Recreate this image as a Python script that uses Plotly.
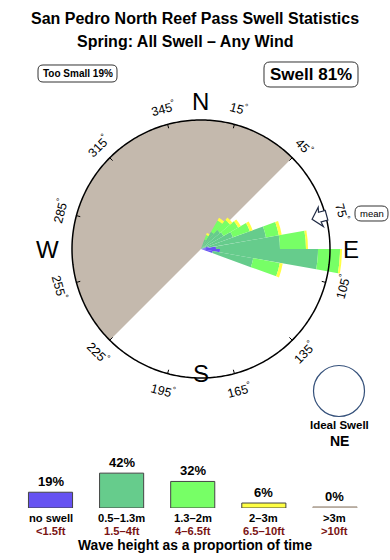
import math
import plotly.graph_objects as go

# ---------------- data ----------------
title_1 = "San Pedro North Reef Pass Swell Statistics"
title_2 = "Spring: All Swell – Any Wind"
too_small_pct = 19
swell_pct = 81
ideal_swell = "NE"

# rose: direction bins (deg, clockwise from N) and stacked segment lengths
directions = [25, 35, 45, 55, 65, 75, 85, 95, 105]
bin_width = 10
no_swell = [0, 0, 0, 0, 0, 0.8, 1.5, 1.9, 1.2]
h_05_13 = [1.0, 2.0, 2.5, 2.6, 3.4, 5.8, 6.4, 9.8, 4.1]
h_13_2 = [0.5, 1.3, 1.3, 1.7, 1.8, 1.3, 2.6, 2.2, 2.7]
h_2_3 = [0.2, 0.3, 0.3, 0.3, 0.3, 0.3, 0.2, 0.2, 0.3]
h_gt3 = [0, 0, 0, 0, 0, 0, 0, 0, 0]
rose_max = 12.9           # value at the compass circle
land_from, land_to = 225, 45   # land sector (clockwise from 225 to 45)
mean_dir = 75
tick_dirs = [15, 45, 75, 105, 135, 165, 195, 225, 255, 285, 315, 345]
cardinals = ["N", "E", "S", "W"]
cardinal_dirs = [0, 90, 180, 270]

# legend
legend_pct = [19, 42, 32, 6, 0]
legend_m = ["no swell", "0.5–1.3m", "1.3–2m", "2–3m", ">3m"]
legend_ft = ["<1.5ft", "1.5–4ft", "4–6.5ft", "6.5–10ft", ">10ft"]
caption = "Wave height as a proportion of time"

# ---------------- style ----------------
W, H = 390, 560
CX, CY = 201, 249
R_PX = 129
R_OUT_PX = 145
FONT = "Liberation Sans, Arial, Helvetica, sans-serif"
LAND = "#c4b9ad"
colors = ["#6652f2", "#66cc8c", "#77ff66", "#ffff44", "#c4b9ad"]
DARKRED = "#7a1414"

px_per_unit = R_PX / rose_max
r_out = R_OUT_PX / px_per_unit


def to_paper(bearing, r_px):
    b = math.radians(bearing)
    x = CX + r_px * math.sin(b)
    y = CY - r_px * math.cos(b)
    return x / W, 1 - y / H


def esc(s):
    return s.replace("<", "&lt;").replace(">", "&gt;")


fig = go.Figure()

# land sector
span = (land_to - land_from) % 360
fig.add_trace(go.Barpolar(
    r=[rose_max], theta=[(land_from + span / 2) % 360], width=[span],
    marker=dict(color=LAND, line=dict(width=0)), hoverinfo="skip",
    showlegend=False))

for vals, col in zip([no_swell, h_05_13, h_13_2, h_2_3, h_gt3], colors):
    fig.add_trace(go.Barpolar(
        r=vals, theta=directions, width=[bin_width] * len(directions),
        marker=dict(color=col, line=dict(width=0)), showlegend=False))

# compass circle
fig.add_trace(go.Scatterpolar(
    r=[rose_max] * 361, theta=list(range(361)), mode="lines",
    line=dict(color="black", width=1.5), showlegend=False, hoverinfo="skip"))

# ticks
tr, tt = [], []
for d in tick_dirs:
    tr += [rose_max - 4 / px_per_unit, rose_max + 0.5 / px_per_unit, None]
    tt += [d, d, None]
fig.add_trace(go.Scatterpolar(
    r=tr, theta=tt, mode="lines", line=dict(color="black", width=1),
    showlegend=False, hoverinfo="skip"))

annotations = []
shapes = []

# tick labels
for d in tick_dirs:
    x, y = to_paper(d, 146)
    ang = d if (d <= 90 or d >= 270) else d - 180
    if ang > 180:
        ang -= 360
    annotations.append(dict(x=x, y=y, xref="paper", yref="paper",
                            text=f"{d}<sup>°</sup>", showarrow=False,
                            textangle=ang, xanchor="center", yanchor="middle",
                            font=dict(family=FONT, size=12.5, color="black")))

# cardinals
for c, d in zip(cardinals, cardinal_dirs):
    rr = {0: 148, 90: 150, 180: 124, 270: 154}[d]
    x, y = to_paper(d, rr)
    annotations.append(dict(x=x, y=y, xref="paper", yref="paper", text=c,
                            showarrow=False, xanchor="center", yanchor="middle",
                            font=dict(family=FONT, size=24, color="black")))

# mean arrow
def pt(along, perp):
    b = math.radians(mean_dir)
    ux, uy = math.sin(b), -math.cos(b)
    nx, ny = math.cos(b), math.sin(b)
    tip = 115
    x = CX + (tip + along) * ux + perp * nx
    y = CY + (tip + along) * uy + perp * ny
    return x / W, 1 - y / H

arrow_pts = [pt(0, 0), pt(9, -10), pt(8, -5), pt(15, -5), pt(15, 5), pt(8, 5), pt(9, 10)]
path = "M " + " L ".join(f"{x:.5f},{y:.5f}" for x, y in arrow_pts) + " Z"
shapes.append(dict(type="path", path=path, xref="paper", yref="paper",
                   line=dict(color="#1f2a44", width=1.2), fillcolor="white"))


def rounded_box(x0, y0, x1, y1, rad=5, lw=1):
    # pixel coords -> paper path
    def P(x, y):
        return f"{x / W:.5f},{1 - y / H:.5f}"
    p = (f"M {P(x0 + rad, y0)} L {P(x1 - rad, y0)} Q {P(x1, y0)} {P(x1, y0 + rad)} "
         f"L {P(x1, y1 - rad)} Q {P(x1, y1)} {P(x1 - rad, y1)} L {P(x0 + rad, y1)} "
         f"Q {P(x0, y1)} {P(x0, y1 - rad)} L {P(x0, y0 + rad)} Q {P(x0, y0)} {P(x0 + rad, y0)} Z")
    return dict(type="path", path=p, xref="paper", yref="paper",
                line=dict(color="#333333", width=lw), fillcolor="white", layer="below")

shapes.append(rounded_box(38, 65, 117, 82, 5))
shapes.append(rounded_box(264, 62, 358, 87, 6))
shapes.append(rounded_box(355, 206, 388, 221, 6))

annotations.append(dict(x=77.5 / W, y=1 - 73.5 / H, xref="paper", yref="paper",
                        text=f"<b>Too Small {too_small_pct}%</b>", showarrow=False,
                        font=dict(family=FONT, size=10, color="black"),
                        xanchor="center", yanchor="middle"))
annotations.append(dict(x=311 / W, y=1 - 74.5 / H, xref="paper", yref="paper",
                        text=f"<b>Swell {swell_pct}%</b>", showarrow=False,
                        font=dict(family=FONT, size=17, color="black"),
                        xanchor="center", yanchor="middle"))
annotations.append(dict(x=371.5 / W, y=1 - 213.5 / H, xref="paper", yref="paper",
                        text="mean", showarrow=False,
                        font=dict(family=FONT, size=9.5, color="black"),
                        xanchor="center", yanchor="middle"))

# title
annotations.append(dict(x=195 / W, y=1 - 19 / H, xref="paper", yref="paper",
                        text=f"<b>{title_1}</b>", showarrow=False,
                        font=dict(family=FONT, size=16, color="black"),
                        xanchor="center", yanchor="middle"))
annotations.append(dict(x=185 / W, y=1 - 42 / H, xref="paper", yref="paper",
                        text=f"<b>{title_2}</b>", showarrow=False,
                        font=dict(family=FONT, size=16, color="black"),
                        xanchor="center", yanchor="middle"))

# ideal swell
shapes.append(dict(type="circle", xref="paper", yref="paper",
                   x0=(339 - 25.5) / W, x1=(339 + 25.5) / W,
                   y0=1 - (391 + 25.5) / H, y1=1 - (391 - 25.5) / H,
                   line=dict(color="#34507a", width=1.2)))
annotations.append(dict(x=339 / W, y=1 - 425 / H, xref="paper", yref="paper",
                        text="<b>Ideal Swell</b>", showarrow=False,
                        font=dict(family=FONT, size=11.5, color="black"),
                        xanchor="center", yanchor="middle"))
annotations.append(dict(x=339 / W, y=1 - 441 / H, xref="paper", yref="paper",
                        text=f"<b>{ideal_swell}</b>", showarrow=False,
                        font=dict(family=FONT, size=14, color="black"),
                        xanchor="center", yanchor="middle"))

# legend bars
idx = list(range(len(legend_pct)))
disp = [max(p, 1.5) for p in legend_pct]
fig.add_trace(go.Bar(
    x=idx, y=disp, width=0.62, xaxis="x", yaxis="y",
    marker=dict(color=colors, line=dict(color=["#444", "#444", "#444", "#444", "#b0a498"], width=1)),
    showlegend=False, hoverinfo="skip"))

for i, p in enumerate(legend_pct):
    annotations.append(dict(x=i, y=disp[i], xref="x", yref="y", text=f"<b>{p}%</b>",
                            showarrow=False, yanchor="bottom", yshift=1,
                            font=dict(family=FONT, size=13, color="black")))
    annotations.append(dict(x=i, y=1 - 517.5 / H, xref="x", yref="paper",
                            text=f"<b>{esc(legend_m[i])}</b>", showarrow=False,
                            yanchor="middle", borderpad=0,
                            font=dict(family=FONT, size=11.2, color="black")))
    annotations.append(dict(x=i, y=1 - 530.5 / H, xref="x", yref="paper",
                            text=f"<b>{esc(legend_ft[i])}</b>", showarrow=False,
                            yanchor="middle", borderpad=0,
                            font=dict(family=FONT, size=11.2, color=DARKRED)))
annotations.append(dict(x=194.5 / W, y=1 - 545.5 / H, xref="paper", yref="paper",
                        text=f"<b>{caption}</b>", showarrow=False,
                        yanchor="middle", borderpad=0,
                        font=dict(family=FONT, size=13.8, color="black")))

fig.update_layout(
    width=W, height=H, margin=dict(l=0, r=0, t=0, b=0),
    paper_bgcolor="white", plot_bgcolor="rgba(0,0,0,0)",
    polar=dict(
        domain=dict(x=[(CX - R_OUT_PX) / W, (CX + R_OUT_PX) / W],
                    y=[1 - (CY + R_OUT_PX) / H, 1 - (CY - R_OUT_PX) / H]),
        bgcolor="rgba(0,0,0,0)",
        barmode="stack", bargap=0,
        radialaxis=dict(range=[0, r_out], visible=False),
        angularaxis=dict(rotation=90, direction="clockwise", visible=False),
    ),
    xaxis=dict(domain=[14.95 / W, 370.5 / W], range=[-0.5, 4.5], visible=False,
               fixedrange=True),
    yaxis=dict(domain=[1 - 508 / H, 1 - 466.5 / H], range=[0, 50], visible=False,
               fixedrange=True),
    annotations=annotations, shapes=shapes,
    showlegend=False,
)

fig.write_html("out.html")
